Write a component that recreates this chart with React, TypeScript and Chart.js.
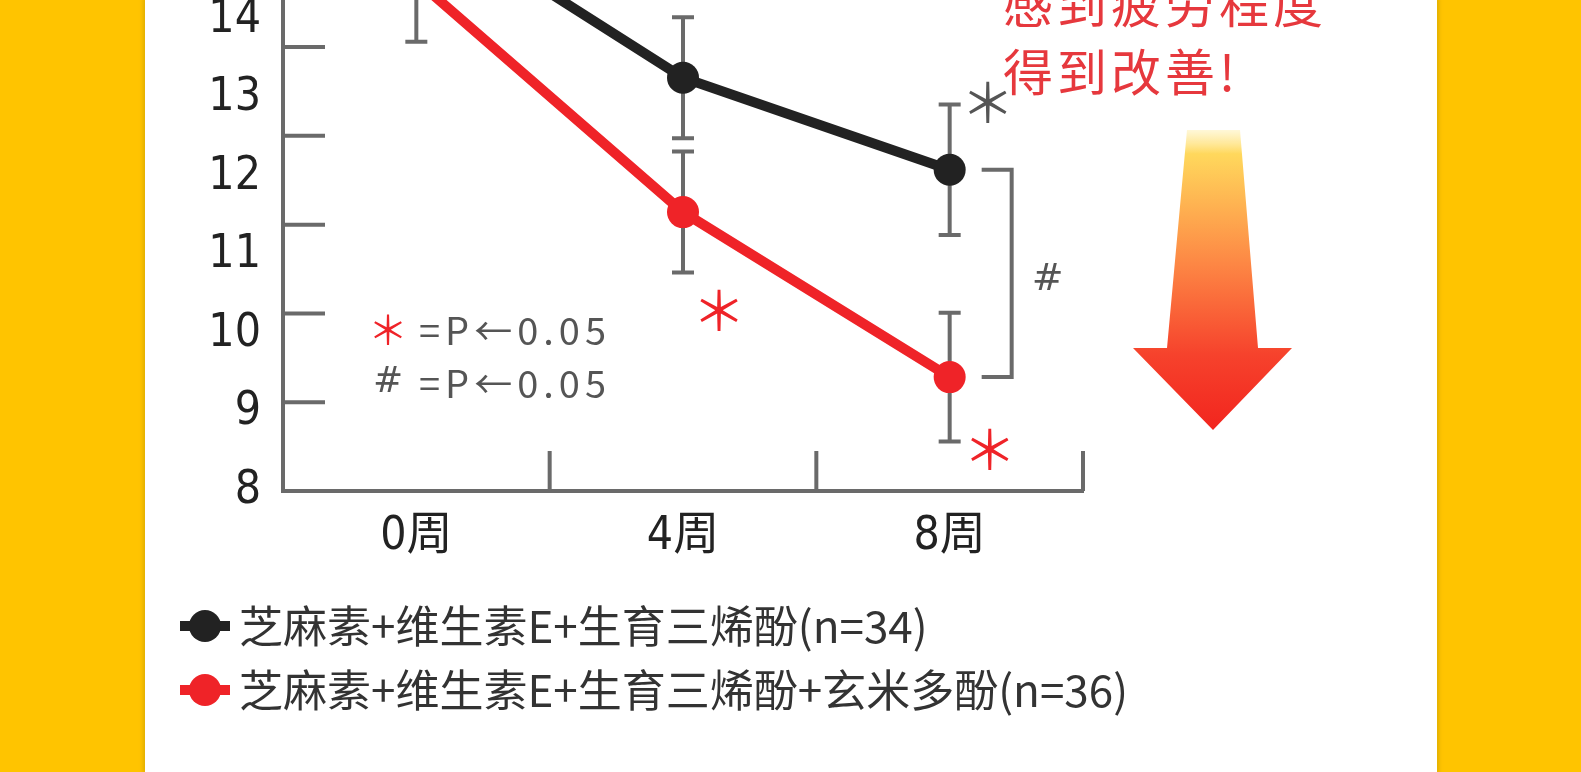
import React, { useEffect, useRef } from 'react';
import { Chart, registerables } from 'chart.js';

Chart.register(...registerables);

// data
const weeks = ['0周', '4周', '8周'];
const seriesNames = [
  '芝麻素+维生素E+生育三烯酚(n=34)',
  '芝麻素+维生素E+生育三烯酚+玄米多酚(n=36)',
];
const blackValues = [15.42, 13.26, 12.09];
const redValues = [14.5, 11.55, 9.45];
const blackErrors = [0.8, 0.77, 0.83];
const redErrors = [0.78, 0.77, 0.82];
const yTickLabels = [8, 9, 10, 11, 12, 13, 14];
const tickMarkValues = [9, 10, 11, 12, 13];
const noteLines = ['=P←0.05', '=P←0.05'];
const headline = ['感到疲劳程度', '得到改善!'];

const BLACK = '#222222';
const RED = '#ef2328';
const GRAY = '#6a6a6a';
const NARROW = "'Liberation Sans Narrow', 'DejaVu Sans Condensed', 'Noto Sans CJK SC', sans-serif";
const CJK = "'Noto Sans CJK SC', sans-serif";

function makeMarker(color: string) {
  const c = document.createElement('canvas');
  c.width = 76;
  c.height = 36;
  const ctx = c.getContext('2d')!;
  ctx.strokeStyle = color;
  ctx.lineWidth = 10;
  ctx.beginPath();
  ctx.moveTo(26, 18);
  ctx.lineTo(76, 18);
  ctx.stroke();
  ctx.fillStyle = color;
  ctx.beginPath();
  ctx.arc(51, 18, 16, 0, Math.PI * 2);
  ctx.fill();
  return c;
}

const errorBars = {
  id: 'errorBars',
  beforeDatasetsDraw(chart: any) {
    const { ctx } = chart;
    const y = chart.scales.y;
    ctx.save();
    ctx.strokeStyle = GRAY;
    ctx.lineWidth = 4;
    chart.data.datasets.forEach((ds: any, di: number) => {
      chart.getDatasetMeta(di).data.forEach((pt: any, i: number) => {
        const v = ds.data[i];
        const e = ds.errors[i];
        const top = y.getPixelForValue(v + e);
        const bot = y.getPixelForValue(v - e);
        ctx.beginPath();
        ctx.moveTo(pt.x, top);
        ctx.lineTo(pt.x, bot);
        ctx.moveTo(pt.x - 11, top);
        ctx.lineTo(pt.x + 11, top);
        ctx.moveTo(pt.x - 11, bot);
        ctx.lineTo(pt.x + 11, bot);
        ctx.stroke();
      });
    });
    ctx.restore();
  },
};

const decorations = {
  id: 'decorations',
  afterDraw(chart: any) {
    const { ctx, chartArea } = chart;
    const x = chart.scales.x;
    const y = chart.scales.y;
    const ym = chart.scales.ym;
    const b = chart.getDatasetMeta(0).data;
    const r = chart.getDatasetMeta(1).data;
    ctx.save();

    // inward tick marks on both axes
    ctx.strokeStyle = GRAY;
    ctx.lineWidth = 4;
    ctx.beginPath();
    tickMarkValues.forEach((v) => {
      const py = ym.getPixelForValue(v);
      ctx.moveTo(chartArea.left, py);
      ctx.lineTo(chartArea.left + 42, py);
    });
    for (let i = 0; i < weeks.length; i++) {
      const px = x.getPixelForValue(i + 0.5);
      ctx.moveTo(px, chartArea.bottom);
      ctx.lineTo(px, chartArea.bottom - 40);
    }
    ctx.stroke();

    // bracket between the two 8-week points
    const bx0 = b[2].x + 32;
    const bx1 = b[2].x + 62;
    ctx.beginPath();
    ctx.moveTo(bx0, b[2].y);
    ctx.lineTo(bx1, b[2].y);
    ctx.lineTo(bx1, r[2].y);
    ctx.lineTo(bx0, r[2].y);
    ctx.stroke();

    ctx.textAlign = 'center';
    ctx.textBaseline = 'middle';
    ctx.fillStyle = '#555';
    ctx.font = `38px 'DejaVu Sans', sans-serif`;
    ctx.fillText('#', bx1 + 36, (b[2].y + r[2].y) / 2 + 7);

    // significance stars
    ctx.font = `54px ${CJK}`;
    ctx.fillStyle = RED;
    ctx.fillText('＊', r[1].x + 36, y.getPixelForValue(redValues[1] - redErrors[1]) + 38);
    ctx.fillText('＊', r[2].x + 40, y.getPixelForValue(redValues[2] - redErrors[2]) + 8);
    ctx.fillStyle = '#555';
    ctx.fillText('＊', b[2].x + 38, y.getPixelForValue(blackValues[2] + blackErrors[2]) - 2);

    // note inside the plot
    const nx = chartArea.left + 105;
    const ny = chartArea.bottom - 161;
    ctx.font = `40px ${CJK}`;
    ctx.fillStyle = RED;
    ctx.fillText('＊', nx, ny);
    ctx.fillStyle = '#555';
    ctx.font = `36px 'DejaVu Sans', sans-serif`;
    ctx.fillText('#', nx, ny + 53);
    ctx.textAlign = 'left';
    ctx.font = `38px ${CJK}`;
    (ctx as any).letterSpacing = '5px';
    noteLines.forEach((t, i) => ctx.fillText(t, nx + 31, ny + 1 + i * 53));
    (ctx as any).letterSpacing = '0px';

    // headline
    ctx.fillStyle = '#e6383d';
    ctx.font = `50px ${CJK}`;
    (ctx as any).letterSpacing = '4px';
    headline.forEach((t, i) => ctx.fillText(t, chartArea.right - 80, chartArea.top + 4 + i * 68));
    (ctx as any).letterSpacing = '0px';

    // gradient arrow
    const cx = chartArea.right + 130;
    const top = chartArea.top + 130;
    const neck = chartArea.top + 348;
    const tip = chartArea.top + 430;
    const g = ctx.createLinearGradient(0, top, 0, tip);
    g.addColorStop(0, 'rgba(255,232,140,0.35)');
    g.addColorStop(0.08, '#ffd85c');
    g.addColorStop(0.45, '#fd8644');
    g.addColorStop(0.75, '#f6422c');
    g.addColorStop(1, '#f2251e');
    ctx.fillStyle = g;
    ctx.beginPath();
    ctx.moveTo(cx - 26, top);
    ctx.lineTo(cx + 27, top);
    ctx.lineTo(cx + 45, neck);
    ctx.lineTo(cx + 79, neck);
    ctx.lineTo(cx, tip);
    ctx.lineTo(cx - 80, neck);
    ctx.lineTo(cx - 46, neck);
    ctx.closePath();
    ctx.fill();

    ctx.restore();
  },
};

function FatigueChart() {
  const canvasRef = useRef<HTMLCanvasElement>(null);

  useEffect(() => {
    if (!canvasRef.current) return;
    const chart = new Chart(canvasRef.current, {
      type: 'line',
      data: {
        labels: weeks,
        datasets: [
          {
            label: seriesNames[0],
            data: blackValues,
            errors: blackErrors,
            borderColor: BLACK,
            backgroundColor: BLACK,
            borderWidth: 10,
            pointRadius: 16,
            pointHoverRadius: 16,
            pointBorderWidth: 0,
            pointBackgroundColor: BLACK,
            yAxisID: 'y',
          } as any,
          {
            label: seriesNames[1],
            data: redValues,
            errors: redErrors,
            borderColor: RED,
            backgroundColor: RED,
            borderWidth: 10,
            pointRadius: 16,
            pointHoverRadius: 16,
            pointBorderWidth: 0,
            pointBackgroundColor: RED,
            yAxisID: 'y',
          } as any,
        ],
      },
      options: {
        responsive: false,
        animation: false,
        layout: { autoPadding: false, padding: { left: 147, right: 0, top: 0, bottom: 50 } },
        plugins: {
          tooltip: { enabled: false },
          legend: {
            position: 'bottom',
            align: 'start',
            labels: {
              usePointStyle: true,
              pointStyleWidth: 50,
              padding: 20,
              color: '#333',
              font: { family: CJK, size: 44 },
              generateLabels: (c: any) =>
                c.data.datasets.map((ds: any, i: number) => ({
                  text: ds.label,
                  pointStyle: makeMarker(ds.borderColor),
                  fillStyle: ds.borderColor,
                  strokeStyle: ds.borderColor,
                  lineWidth: 0,
                  hidden: false,
                  datasetIndex: i,
                  fontColor: '#333',
                })),
            },
          },
        },
        scales: {
          x: {
            offset: true,
            grid: { display: false, drawTicks: false },
            border: { display: true, color: GRAY, width: 4 },
            ticks: { padding: 18, color: '#222', font: { family: NARROW, size: 46 } },
            afterFit: (s: any) => {
              s.height = 93;
              s.paddingLeft = 0;
              s.paddingRight = 0;
            },
          },
          y: {
            min: 8,
            max: 14.25,
            grid: { display: false, drawTicks: false },
            border: { display: true, color: GRAY, width: 4 },
            ticks: { padding: 22, color: '#222', font: { family: NARROW, size: 46 } },
            afterBuildTicks: (s: any) => {
              s.ticks = yTickLabels.map((v) => ({ value: v }));
            },
            afterFit: (s: any) => {
              s.width = 136;
              s.paddingTop = 0;
              s.paddingBottom = 0;
            },
          },
          ym: {
            type: 'linear',
            position: 'left',
            display: false,
            min: 8,
            max: 13.53,
          },
          // empty right-hand strip that leaves room for the headline and arrow
          yr: {
            type: 'linear',
            position: 'right',
            grid: { display: false, drawTicks: false },
            border: { display: false },
            ticks: { display: false },
            afterFit: (s: any) => {
              s.width = 498;
              s.paddingTop = 0;
              s.paddingBottom = 0;
            },
          },
        },
      } as any,
      plugins: [errorBars, decorations],
    });
    return () => chart.destroy();
  }, []);

  return <canvas ref={canvasRef} width={1581} height={772} />;
}

export default function App() {
  return (
    <div style={{ position: 'fixed', left: 0, top: 0, width: 1581, height: 772, background: '#ffc400', overflow: 'hidden' }}>
      <div
        style={{
          position: 'absolute',
          left: 145,
          top: 0,
          width: 1292,
          height: 772,
          background: '#ffffff',
          boxShadow: '0 0 4px 2px #e0ae00',
        }}
      />
      <div style={{ position: 'absolute', left: 0, top: 0 }}>
        <FatigueChart />
      </div>
    </div>
  );
}
